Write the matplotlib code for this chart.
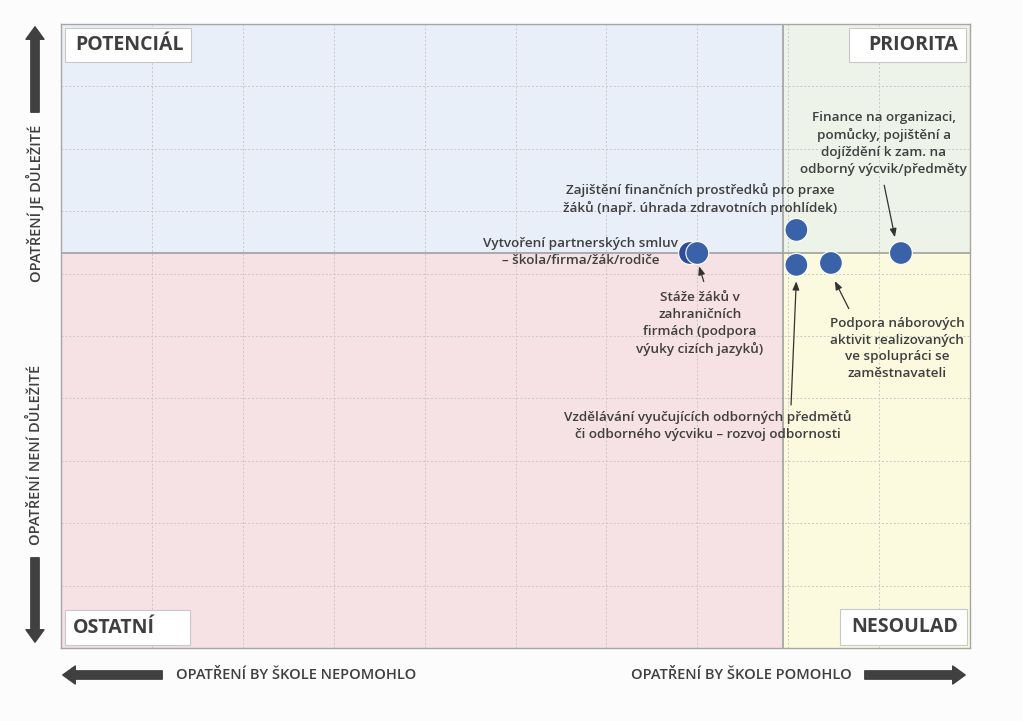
import matplotlib
matplotlib.use("Agg")
import matplotlib.pyplot as plt
from matplotlib.patches import Rectangle

plt.rcParams['font.family'] = ['Open Sans', 'DejaVu Sans']

# data (x: pomohlo skole, y: dulezitost), 0-100
point_x = [69.2, 70.0, 80.9, 80.9, 84.7, 92.4]
point_y = [63.3, 63.3, 67.0, 61.4, 61.7, 63.3]
point_colors = ['#2E4C9A', '#3A62A8', '#3A62A8', '#3A62A8', '#3A62A8', '#3A62A8']

x_split = 79.4
y_split = 63.3

quadrant_names = ['POTENCIÁL', 'PRIORITA', 'OSTATNÍ', 'NESOULAD']

labels = [
    "Finance na organizaci,\npomůcky, pojištění a\ndojíždění k zam. na\nodborný výcvik/předměty",
    "Zajištění finančních prostředků pro praxe\nžáků (např. úhrada zdravotních prohlídek)",
    "Vytvoření partnerských smluv\n– škola/firma/žák/rodiče",
    "Stáže žáků v\nzahraničních\nfirmách (podpora\nvýuky cizích jazyků)",
    "Podpora náborových\naktivit realizovaných\nve spolupráci se\nzaměstnavateli",
    "Vzdělávání vyučujících odborných předmětů\nči odborného výcviku – rozvoj odbornosti",
]
label_pos = [(90.5, 80.9), (70.3, 72.0), (57.2, 63.4), (70.3, 52.0), (92.0, 48.0), (71.2, 35.7)]
# arrow: (start, end) in data coords or None
label_arrows = [((90.5, 74.6), (91.8, 65.4)), None, None,
                ((70.8, 58.3), (70.1, 61.6)),
                ((86.8, 54.0), (85.0, 59.2)),
                ((80.3, 38.5), (80.9, 59.2))]

text_color = '#3F3F3F'

fig = plt.figure(figsize=(10.23, 7.21), dpi=100)
fig.patch.set_facecolor('#FCFCFC')
ax = fig.add_axes([61 / 1023, 73 / 721, 909 / 1023, 624 / 721])
ax.set_xlim(0, 100)
ax.set_ylim(0, 100)

# quadrant backgrounds
ax.fill_between([0, x_split], y_split, 100, color='#E9EFF8', zorder=0)
ax.fill_between([x_split, 100], y_split, 100, color='#EEF3E9', zorder=0)
ax.fill_between([0, x_split], 0, y_split, color='#F6E1E4', zorder=0)
ax.fill_between([x_split, 100], 0, y_split, color='#FBFADF', zorder=0)

ax.set_xticks(range(0, 101, 10))
ax.set_yticks(range(0, 101, 10))
ax.grid(True, color='#C8C8C8', linestyle=(0, (2, 2)), linewidth=0.7, zorder=1)
ax.tick_params(length=0, labelbottom=False, labelleft=False)
for s in ax.spines.values():
    s.set_color('#A6A6A6')
    s.set_linewidth(1.0)

ax.axvline(x_split, color='#A0A0A0', linewidth=1.2, zorder=2)
ax.axhline(y_split, color='#A0A0A0', linewidth=1.2, zorder=2)

ax.scatter(point_x, point_y, s=270, c=point_colors, edgecolors='white',
           linewidths=0.8, zorder=5)

# quadrant label boxes (axes fraction): x0, y0, w, h, text x, ha
qboxes = [(0.0044, 0.9391, 0.1386, 0.0545, 0.0154, 'left'),
          (0.8669, 0.9391, 0.1287, 0.0545, 0.9868, 'right'),
          (0.0044, 0.0048, 0.1375, 0.0561, 0.0132, 'left'),
          (0.8570, 0.0048, 0.1397, 0.0577, 0.9868, 'right')]
for name, (bx, by, bw, bh, tx, ha) in zip(quadrant_names, qboxes):
    ax.add_patch(Rectangle((bx, by), bw, bh, transform=ax.transAxes, facecolor='white',
                           edgecolor='#C8C8C8', linewidth=0.8, zorder=6))
    ax.text(tx, by + bh / 2, name, transform=ax.transAxes, ha=ha, va='center',
            fontsize=14, fontweight='bold', color=text_color, zorder=7)

for text, (lx, ly), arr in zip(labels, label_pos, label_arrows):
    ax.text(lx, ly, text, ha='center', va='center', fontsize=9.7, fontweight='semibold',
            color=text_color, linespacing=1.38, zorder=6)
    if arr is not None:
        ax.annotate('', xy=arr[1], xytext=arr[0],
                    arrowprops=dict(arrowstyle='-|>,head_width=0.2,head_length=0.5',
                                    color='#333333', linewidth=0.9), zorder=6)

# outer axis arrows
big = dict(arrowstyle='simple,head_width=1.3,head_length=0.9,tail_width=0.6',
           color='#404040', mutation_scale=10)
fig_arrows = [((35, 606), (35, 697)), ((35, 166), (35, 76)),
              ((165, 46), (60, 46)), ((862, 46), (968, 46))]
for start, end in fig_arrows:
    ax.annotate('', xy=end, xytext=start, xycoords='figure pixels',
                textcoords='figure pixels', arrowprops=big, annotation_clip=False)

side_kw = dict(fontsize=10.5, fontweight='semibold', color=text_color)
fig.text(35 / 1023, 1 - 203 / 721, 'OPATŘENÍ JE DŮLEŽITÉ', rotation=90,
         ha='center', va='center', **side_kw)
fig.text(35 / 1023, 1 - 455 / 721, 'OPATŘENÍ NENÍ DŮLEŽITÉ', rotation=90,
         ha='center', va='center', **side_kw)
fig.text(296 / 1023, 46 / 721, 'OPATŘENÍ BY ŠKOLE NEPOMOHLO', ha='center', va='center', **side_kw)
fig.text(741 / 1023, 46 / 721, 'OPATŘENÍ BY ŠKOLE POMOHLO', ha='center', va='center', **side_kw)

fig.savefig('out.png', dpi=100, facecolor=fig.get_facecolor())
